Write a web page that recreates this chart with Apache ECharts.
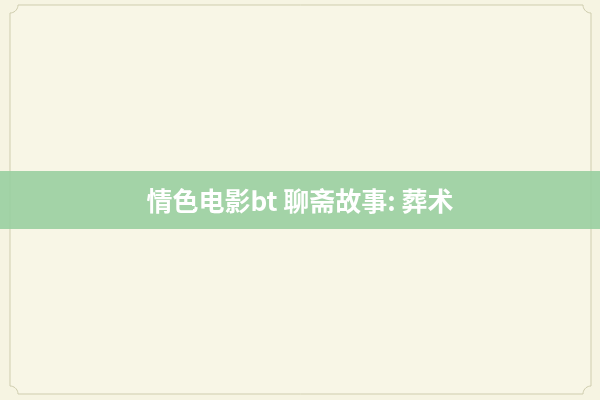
<!DOCTYPE html>
<html>
<head>
<meta charset="utf-8">
<script src="https://cdn.jsdelivr.net/npm/echarts@6/dist/echarts.min.js"></script>
<style>
  html, body { margin: 0; padding: 0; background: #f6f4e2; }
  #main { width: 600px; height: 400px; }
</style>
</head>
<body>
<div id="main"></div>
<script>
// 标题文字
var titleText = '情色电影bt 聊斋故事: 葬术';
// 配色
var bgColor = '#f6f4e2';
var frameColor = '#cfcdae';
var bandColor = 'rgba(150, 206, 158, 0.88)';

// 边框点：矩形四角做成内凹的圆弧
function framePoints(x0, y0, x1, y1, r) {
  var pts = [];
  var corners = [
    [x1, y0, 180, 90],   // 右上
    [x1, y1, 270, 180],  // 右下
    [x0, y1, 360, 270],  // 左下
    [x0, y0, 90, 0]      // 左上
  ];
  corners.forEach(function (c) {
    for (var a = c[2]; a >= c[3]; a -= 10) {
      var rad = a * Math.PI / 180;
      pts.push([c[0] + r * Math.cos(rad), c[1] + r * Math.sin(rad)]);
    }
  });
  return pts;
}

var chart = echarts.init(document.getElementById('main'));
chart.setOption({
  backgroundColor: bgColor,
  title: {
    text: titleText,
    left: 'center',
    top: 183,
    textStyle: {
      color: '#ffffff',
      fontSize: 26,
      fontWeight: 'bold',
      fontFamily: '"Noto Sans CJK SC", "Noto Sans", sans-serif'
    },
    z: 10
  },
  graphic: [
    {
      type: 'polygon',
      shape: { points: framePoints(10, 5, 591, 394, 8) },
      style: { fill: '#f8f6e6', stroke: frameColor, lineWidth: 1 },
      z: 1
    },
    {
      // 绿色横条
      type: 'rect',
      shape: { x: 0, y: 171, width: 600, height: 58 },
      style: { fill: bandColor },
      z: 2
    }
  ]
});
</script>
</body>
</html>
